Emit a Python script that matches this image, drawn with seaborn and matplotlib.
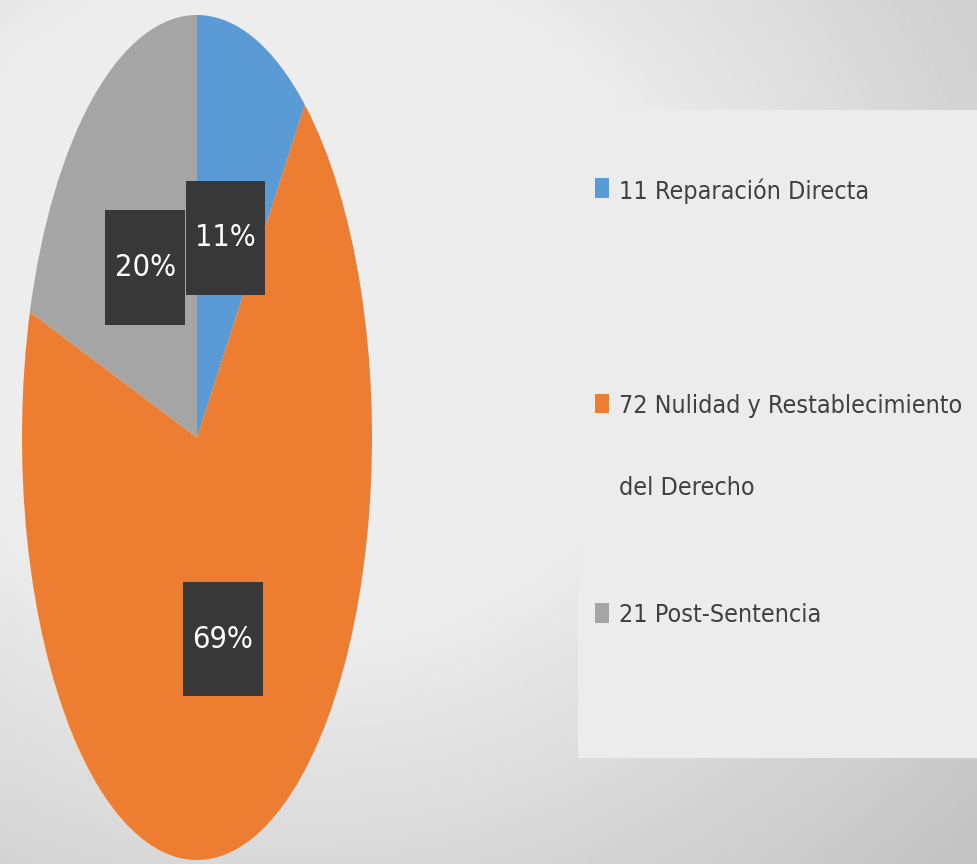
import numpy as np
import matplotlib
matplotlib.use("Agg")
import matplotlib.pyplot as plt
from matplotlib import font_manager
from matplotlib.path import Path
import seaborn as sns

# data
categories = ["Reparación Directa", "Nulidad y Restablecimiento\ndel Derecho", "Post-Sentencia"]
counts = [11, 72, 21]
colors = ["#5b9bd5", "#ed7d31", "#a5a5a5"]

sns.set_theme(style="white")

# look for a narrow face, the original uses a condensed Calibri-like font
narrow = None
for f in font_manager.fontManager.ttflist:
    fn = f.fname.lower()
    if ("condensed" in fn or "narrow" in fn) and "bold" not in fn and "italic" not in fn and "oblique" not in fn:
        narrow = f
        break
if narrow is not None:
    fam = narrow.name
    stretch = narrow.stretch
    scale = 1.0
else:
    fam = "Liberation Sans"
    stretch = "normal"
    scale = 0.85
plt.rcParams["font.family"] = [fam, "DejaVu Sans"]
plt.rcParams["font.stretch"] = stretch

W, H = 977, 864
fig = plt.figure(figsize=(W / 100, H / 100), dpi=100)

# soft gray background, lighter top left, darker to the right and bottom
bg = fig.add_axes([0, 0, 1, 1], zorder=-5)
yy, xx = np.mgrid[0:1:200j, 0:1:200j]
d = np.sqrt((xx - 0.3) ** 2 + (yy - 0.35) ** 2)
shade = 237 - 75 * np.clip(d - 0.38, 0, None)
bg.imshow(shade, cmap="gray", vmin=0, vmax=255, aspect="auto", extent=[0, 1, 1, 0])
bg.set_axis_off()


def tall_box(x0, y0, width, height, mutation_size):
    # label box: a little side padding, lots above and below
    px, py = 0.3 * mutation_size, 1.4 * mutation_size
    x0, y0 = x0 - px, y0 - py
    x1, y1 = x0 + width + 2 * px, y0 + height + 2 * py
    return Path([(x0, y0), (x1, y0), (x1, y1), (x0, y1), (x0, y0)],
                closed=True)


# stretched pie
ax = fig.add_axes([22 / W, 4 / H, 350 / W, 845 / H])
wedges, _, autotexts = ax.pie(
    counts, colors=colors, startangle=90, counterclock=False,
    autopct="%1.0f%%", pctdistance=0.5, wedgeprops=dict(linewidth=0),
)
ax.set_xlim(-1, 1)
ax.set_ylim(-1, 1)
ax.set_aspect("auto")
for t in autotexts:
    t.set_color("white")
    t.set_fontsize(22 * scale)
    t.set_bbox(dict(boxstyle=tall_box, fc="#383838", ec="none"))

# legend panel
lax = fig.add_axes([578 / W, (H - 758) / H, (W - 578) / W, (758 - 110) / H])
lax.set_facecolor("#ececec")
lax.set_xticks([])
lax.set_yticks([])
for s in lax.spines.values():
    s.set_visible(False)

labels = [f"{n} {c}" for n, c in zip(counts, categories)]
leg_kw = dict(loc="upper left", frameon=False, fontsize=18 * scale, borderpad=0,
              borderaxespad=0, handlelength=0.55, handleheight=0.85,
              handletextpad=0.4, labelcolor="#404040")
# the wrapped entry gets more room above it than below, so split in two
leg1 = lax.legend(wedges[:2], labels[:2], bbox_to_anchor=(17 / 399, 1 - 68 / 648),
                  labelspacing=7.6, **leg_kw)
for t in leg1.get_texts():
    t.set_linespacing(4.1)
# keep the marker next to the first line of a wrapped label
try:
    for col in leg1._legend_handle_box.get_children():
        for row in col.get_children():
            row.align = "top"
except Exception:
    pass
lax.add_artist(leg1)
leg2 = lax.legend(wedges[2:], labels[2:], bbox_to_anchor=(17 / 399, 1 - 493 / 648),
                  **leg_kw)

fig.savefig("out.png", dpi=100)
